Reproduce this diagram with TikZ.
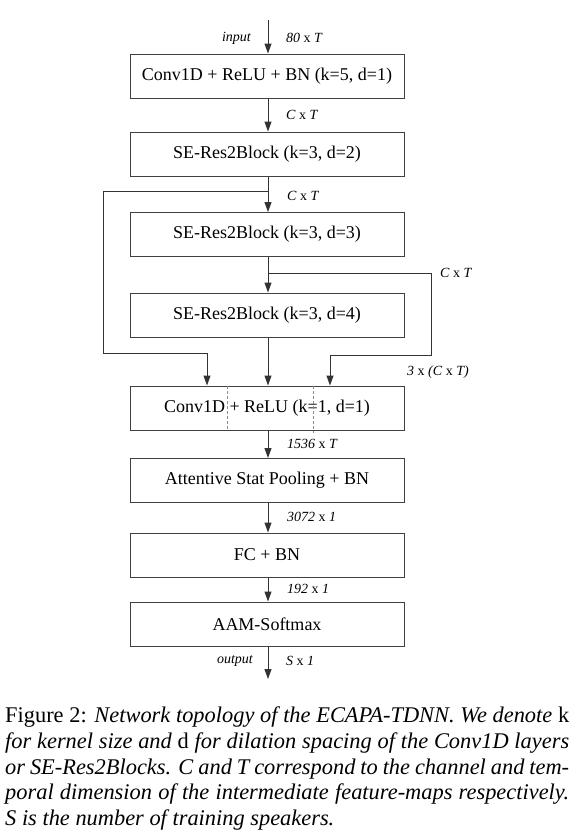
\documentclass[tikz,border=0pt]{standalone}
\usepackage{fontspec}
\setmainfont{Liberation Serif}
\usetikzlibrary{arrows.meta}

\begin{document}
\begin{tikzpicture}[x=1pt,y=-1pt,
  layer/.style={draw=black!75, line width=1pt, minimum width=274pt, minimum height=44pt,
    inner sep=0pt, font=\fontsize{18}{20}\selectfont},
  arr/.style={draw=black!80, line width=1pt, -{Triangle[length=10pt,width=7pt]}},
  wire/.style={draw=black!80, line width=1pt},
  lbl/.style={font=\fontsize{14}{16}\selectfont\itshape, inner sep=0pt},
  capline/.style={anchor=base west, inner sep=0pt, font=\fontsize{22.4}{26}\selectfont},
  split/.style={draw=black!45, line width=0.8pt, dash pattern=on 3pt off 2pt}]

\useasboundingbox (0,0) rectangle (580,838);

% processing stages
\node[layer] (b1) at (267,76)    {Conv1D + ReLU + BN (k=5, d=1)};
\node[layer] (b2) at (267,154)   {SE-Res2Block (k=3, d=2)};
\node[layer] (b3) at (267,234.5) {SE-Res2Block (k=3, d=3)};
\node[layer] (b4) at (267,315)   {SE-Res2Block (k=3, d=4)};
\node[layer] (b5) at (267,408)   {Conv1D + ReLU (k=1, d=1)};
\node[layer] (b6) at (267,480.5) {Attentive Stat Pooling + BN};
\node[layer] (b7) at (267,555)   {FC + BN};
\node[layer] (b8) at (267,624)   {AAM-Softmax};

% dashed separators inside the aggregation layer
\coordinate (d1t) at (227,386);
\coordinate (d1b) at (227,430);
\coordinate (d2t) at (313,386);
\coordinate (d2b) at (313,433);
\draw[split] (d1t) -- (d1b);
\draw[split] (d2t) -- (d2b);

% main flow
\coordinate (in)  at (268,20);
\coordinate (out) at (268,679);
\draw[arr] (in) -- (in |- b1.north);
\draw[arr] (b1.south -| in) -- (b2.north -| in);
\draw[arr] (b2.south -| in) -- (b3.north -| in);
\draw[arr] (b3.south -| in) -- (b4.north -| in);
\draw[arr] (b4.south -| in) -- (b5.north -| in);
\draw[arr] (b5.south -| in) -- (b6.north -| in);
\draw[arr] (b6.south -| in) -- (b7.north -| in);
\draw[arr] (b7.south -| in) -- (b8.north -| in);
\draw[arr] (b8.south -| in) -- (out);

% skip connection on the left
\coordinate (s1) at (268,191);
\coordinate (s2) at (103,191);
\coordinate (s3) at (103,353);
\coordinate (s4) at (207,353);
\draw[wire] (s1) -- (s2) -- (s3) -- (s4);
\draw[arr] (s4) -- (s4 |- b5.north);

% skip connection on the right
\coordinate (r1) at (268,273);
\coordinate (r2) at (431,273);
\coordinate (r3) at (431,355);
\coordinate (r4) at (330,355);
\draw[wire] (r1) -- (r2) -- (r3) -- (r4);
\draw[arr] (r4) -- (r4 |- b5.north);

% tensor shapes
\node[lbl, anchor=east] (lin)  at (251,38)  {input};
\node[lbl, anchor=west] (l0)   at (286,38)  {80 \textup{x} T};
\node[lbl, anchor=west] (l1)   at (286,115) {C \textup{x} T};
\node[lbl, anchor=west] (l2)   at (287,196) {C \textup{x} T};
\node[lbl, anchor=west] (l3)   at (440,273) {C \textup{x} T};
\node[lbl, anchor=west] (l4)   at (407,372) {3 \textup{x} (C \textup{x} T)};
\node[lbl, anchor=west] (l5)   at (287,444) {1536 \textup{x} T};
\node[lbl, anchor=west] (l6)   at (287,517) {3072 \textup{x} 1};
\node[lbl, anchor=west] (l7)   at (287,589) {192 \textup{x} 1};
\node[lbl, anchor=east] (lout) at (253,661) {output};
\node[lbl, anchor=west] (l8)   at (286,661) {S \textup{x} 1};

% caption, one justified line per node
\node[capline] (c1) at (5,722) {\makebox[564pt][s]{Figure 2: \textit{Network topology of the ECAPA-TDNN. We denote} k}};
\node[capline] (c2) at (5,748) {\makebox[564pt][s]{\textit{for kernel size and} d \textit{for dilation spacing of the Conv1D layers}}};
\node[capline] (c3) at (5,774) {\makebox[564pt][s]{\textit{or SE-Res2Blocks. C and T correspond to the channel and tem-}}};
\node[capline] (c4) at (5,799) {\makebox[564pt][s]{\textit{poral dimension of the intermediate feature-maps respectively.}}};
\node[capline] (c5) at (5,825) {\textit{S is the number of training speakers.}};
\end{tikzpicture}
\end{document}
